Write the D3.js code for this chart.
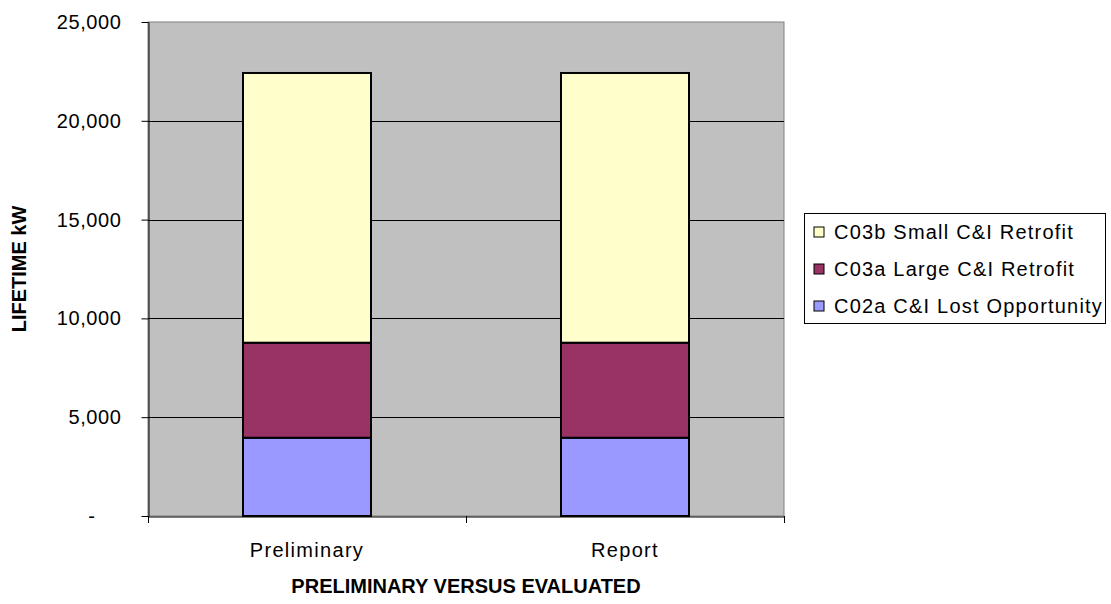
<!DOCTYPE html>
<html><head><meta charset="utf-8">
<script src="https://cdn.jsdelivr.net/npm/d3@7"></script>
<style>body{margin:0;background:#fff}svg{display:block}text{font-family:"Liberation Sans",Arial,sans-serif}</style>
</head><body><svg id="c" width="1111" height="604"></svg>
<script>
const categories = ["Preliminary", "Report"];
const seriesNames = ["C02a C&I Lost Opportunity", "C03a Large C&I Retrofit", "C03b Small C&I Retrofit"];
const lostOpportunity = [3960, 3960];
const largeRetrofit = [4810, 4810];
const smallRetrofit = [13650, 13650];
const seriesColors = ["#9999FF", "#993366", "#FFFFCC"];
const yTicks = [0, 5000, 10000, 15000, 20000, 25000];

const svg = d3.select("#c");
const L = 148, R = 784, T = 22, B = 516;
const y = d3.scaleLinear().domain([0, 25000]).range([B, T]);

const rows = categories.map((c, i) => ({cat: c, s0: lostOpportunity[i], s1: largeRetrofit[i], s2: smallRetrofit[i]}));
const stack = d3.stack().keys(["s0", "s1", "s2"])(rows);

svg.append("rect").attr("x", L).attr("y", T).attr("width", R - L).attr("height", B - T)
  .attr("fill", "#C0C0C0").attr("stroke", "#808080").attr("stroke-width", 1);

// gridlines
svg.append("g").selectAll("line").data(yTicks.filter(d => d > 0 && d < 25000)).join("line")
  .attr("x1", L).attr("x2", R).attr("y1", d => Math.round(y(d)) + 0.5).attr("y2", d => Math.round(y(d)) + 0.5)
  .attr("stroke", "#000").attr("stroke-width", 1);

// bars
const band = d3.scaleBand().domain(categories).range([L, R]);
const bw = 128;
stack.forEach((layer, k) => {
  svg.append("g").selectAll("rect").data(layer).join("rect")
    .attr("x", (d, i) => band(categories[i]) + band.bandwidth() / 2 - bw / 2)
    .attr("y", d => y(d[1]))
    .attr("width", bw)
    .attr("height", d => y(d[0]) - y(d[1]))
    .attr("fill", seriesColors[k]).attr("stroke", "#000").attr("stroke-width", 2);
});

// y axis
const yAxis = d3.axisLeft(y).tickValues(yTicks).tickSize(7).tickSizeOuter(0).tickPadding(20)
  .tickFormat(d => d === 0 ? "-" : d3.format(",")(d));
const gy = svg.append("g").attr("transform", `translate(${L + 0.5},0)`).call(yAxis);
gy.select(".domain").attr("stroke", "#000");
gy.selectAll("text").attr("font-size", 20).attr("fill", "#000").style("letter-spacing", "0.6px");
gy.selectAll("line").attr("stroke", "#000");
gy.selectAll(".tick").filter(d => d === 0).select("text").attr("dx", -26);

// x axis
const xAxis = d3.axisBottom(band).tickSize(0).tickPadding(0);
const gx = svg.append("g").attr("transform", `translate(0,${B + 0.5})`).call(xAxis);
gx.select(".domain").attr("stroke", "#000");
gx.selectAll("text").attr("font-size", 20).attr("fill", "#000").attr("dy", null).attr("y", 40).style("letter-spacing", "1.3px");
// category separators
svg.append("g").selectAll("line").data([L, band(categories[1]), R]).join("line")
  .attr("x1", d => Math.round(d) + 0.5).attr("x2", d => Math.round(d) + 0.5).attr("y1", B).attr("y2", B + 7)
  .attr("stroke", "#000");

// titles
svg.append("text").attr("transform", `translate(26,${(T + B) / 2}) rotate(-90)`).attr("text-anchor", "middle")
  .attr("font-size", 20).attr("font-weight", "bold").text("LIFETIME kW");
svg.append("text").attr("x", (L + R) / 2).attr("y", 593).attr("text-anchor", "middle")
  .attr("font-size", 20).attr("font-weight", "bold").text("PRELIMINARY VERSUS EVALUATED");

// legend
const lg = svg.append("g");
lg.append("rect").attr("x", 804.5).attr("y", 213.5).attr("width", 301).attr("height", 110)
  .attr("fill", "#fff").attr("stroke", "#000").attr("stroke-width", 1);
const order = [2, 1, 0];
order.forEach((k, i) => {
  const cy = 232 + i * 37;
  lg.append("rect").attr("x", 814).attr("y", cy - 5).attr("width", 10).attr("height", 10)
    .attr("fill", seriesColors[k]).attr("stroke", "#000").attr("stroke-width", 1);
  lg.append("text").attr("x", 834).attr("y", cy + 7).attr("font-size", 20).style("letter-spacing", "1.2px").text(seriesNames[k]);
});
</script></body></html>
